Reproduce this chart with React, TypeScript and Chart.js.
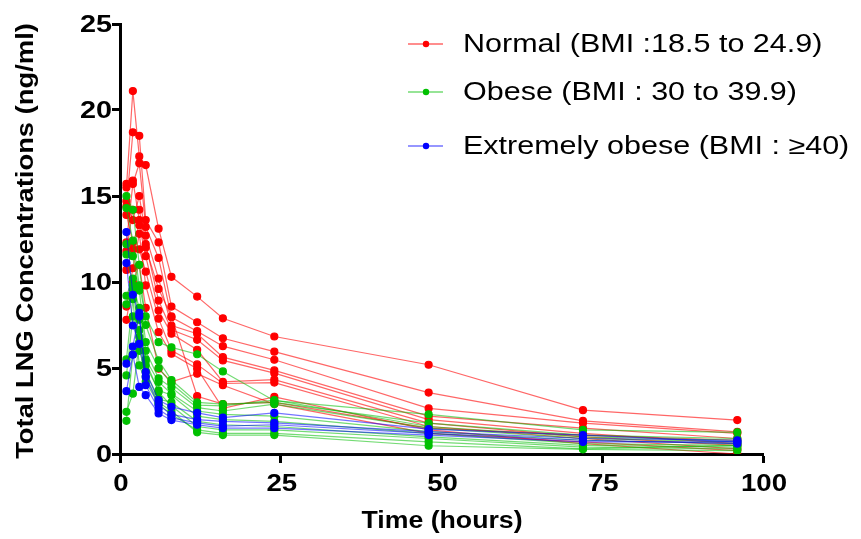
import React, { useEffect, useRef } from "react";
import { Chart, registerables } from "chart.js";

Chart.register(...registerables);

const times = [1, 2, 3, 4, 6, 8, 12, 16, 24, 48, 72, 96];

const normalSubjects: number[][] = [
  [15.5, 21.1, 17.3, 16.8, 13.1, 10.3, 9.15, 7.89, 6.83, 5.19, 2.55, 1.97],
  [14.4, 18.7, 18.5, 13.6, 12.3, 8.57, 7.66, 6.73, 5.95, 3.57, 1.93, 1.29],
  [12.3, 15.7, 16.9, 13.2, 11.4, 7.95, 7.14, 6.27, 5.48, 2.65, 1.8, 1.2],
  [14.7, 13.6, 15.0, 12.7, 10.2, 7.47, 6.99, 5.63, 4.86, 2.2, 1.5, 0.9],
  [11.8, 14.2, 14.2, 12.2, 8.92, 7.22, 6.64, 5.44, 4.7, 2.0, 1.2, 0.6],
  [13.9, 12.3, 13.3, 11.5, 8.34, 6.99, 6.06, 4.19, 4.32, 1.8, 1.0, 0.5],
  [10.7, 11.9, 11.9, 10.6, 7.87, 6.02, 5.21, 4.1, 4.15, 1.6, 0.9, 0.3],
  [8.57, 10.8, 12.8, 9.8, 7.08, 5.83, 4.96, 2.65, 3.32, 1.4, 0.6, 0.0],
  [7.8, 10.0, 11.0, 8.5, 4.96, 4.19, 4.67, 4.0, 2.9, 1.2, 0.7, 0.2],
  [15.7, 15.9, 13.6, 12.0, 9.6, 8.0, 3.36, 2.9, 3.0, 1.5, 1.1, 0.8],
];

const obeseSubjects: number[][] = [
  [14.3, 12.4, 9.8, 8.0, 6.5, 6.2, 5.8, 4.8, 3.1, 2.3, 1.4, 1.26],
  [15.0, 14.2, 11.0, 7.5, 5.44, 4.3, 3.0, 2.9, 3.0, 1.8, 1.1, 0.9],
  [12.2, 11.5, 9.5, 6.5, 5.0, 4.1, 2.84, 2.8, 3.13, 1.6, 1.0, 0.8],
  [11.6, 9.8, 8.5, 6.0, 4.4, 3.86, 2.7, 2.5, 2.9, 1.5, 0.9, 0.7],
  [9.2, 10.2, 7.8, 5.5, 4.19, 3.5, 2.5, 2.3, 2.2, 1.3, 0.8, 0.6],
  [8.7, 9.6, 6.8, 5.15, 3.7, 3.42, 2.2, 2.0, 1.9, 1.2, 0.6, 0.5],
  [4.57, 8.0, 6.0, 4.8, 3.2, 3.0, 1.9, 1.7, 1.6, 1.0, 0.5, 0.4],
  [2.45, 3.51, 6.5, 5.4, 3.6, 2.8, 1.6, 1.4, 1.4, 0.9, 0.4, 0.3],
  [1.93, 5.8, 7.2, 4.5, 3.0, 2.5, 1.26, 1.1, 1.1, 0.48, 0.27, 0.2],
  [5.5, 9.0, 5.15, 4.2, 2.9, 2.3, 1.4, 1.2, 1.2, 0.7, 0.3, 0.5],
];

const extremeSubjects: number[][] = [
  [12.9, 9.26, 8.0, 4.76, 3.13, 2.74, 2.39, 2.12, 2.39, 1.45, 1.1, 0.71],
  [11.1, 7.47, 6.4, 4.48, 2.84, 2.3, 2.0, 1.9, 1.81, 1.3, 0.9, 0.8],
  [5.25, 6.25, 8.2, 4.0, 2.6, 2.1, 1.81, 1.62, 1.7, 1.2, 0.8, 0.6],
  [3.65, 5.77, 3.9, 3.42, 2.36, 1.97, 1.7, 1.5, 1.5, 1.1, 0.7, 0.7],
];

const groupLabels = [
  "Normal (BMI :18.5 to 24.9)",
  "Obese (BMI : 30 to 39.9)",
  "Extremely obese (BMI : \u226540)",
];
const groupColors = ["#ff0000", "#00c000", "#0000ff"];
const groupLineColors = ["rgba(255,0,0,0.6)", "rgba(0,190,0,0.55)", "rgba(0,0,255,0.55)"];

const xTicks = [0, 25, 50, 75, 100];
const yTicks = [0, 5, 10, 15, 20, 25];
const xTitle = "Time (hours)";
const yTitle = "Total LNG Concentrations (ng/ml)";

const FONT = "'Liberation Sans', Arial, sans-serif";

function stretchedText(
  ctx: CanvasRenderingContext2D,
  text: string,
  x: number,
  y: number,
  font: string,
  sx: number,
  align: "left" | "right" | "center",
  rotate = 0
) {
  ctx.save();
  ctx.translate(x, y);
  if (rotate) ctx.rotate(rotate);
  ctx.scale(sx, 1);
  ctx.font = font;
  ctx.fillStyle = "#000";
  ctx.textAlign = align;
  ctx.textBaseline = "middle";
  ctx.fillText(text, 0, 0);
  ctx.restore();
}

export default function App() {
  const ref = useRef<HTMLCanvasElement | null>(null);

  useEffect(() => {
    document.body.style.margin = "0";
    const canvas = ref.current;
    if (!canvas) return;

    const groups = [normalSubjects, obeseSubjects, extremeSubjects];
    const datasets: any[] = [];
    [2, 1, 0].forEach((g) => {
      groups[g].forEach((subj) => {
        datasets.push({
          label: groupLabels[g],
          data: subj.map((v, i) => ({ x: times[i], y: v })),
          borderColor: groupLineColors[g],
          backgroundColor: groupColors[g],
          pointBackgroundColor: groupColors[g],
          pointBorderColor: groupColors[g],
          borderWidth: 1.2,
          pointRadius: 3.5,
          pointHoverRadius: 3.5,
          tension: 0,
          fill: false,
        });
      });
    });

    const textPlugin = {
      id: "textPlugin",
      afterDraw(chart: any) {
        const ctx = chart.ctx as CanvasRenderingContext2D;
        const xs = chart.scales.x;
        const ys = chart.scales.y;
        const tickFont = `bold 24px ${FONT}`;
        ys.ticks.forEach((t: any) => {
          const py = ys.getPixelForValue(t.value);
          stretchedText(ctx, String(t.value), 112, py + 1, tickFont, 1.2, "right");
        });
        xs.ticks.forEach((t: any) => {
          const px = xs.getPixelForValue(t.value);
          stretchedText(ctx, String(t.value), px + 1, 484, tickFont, 1.15, "center");
        });
        stretchedText(ctx, xTitle, 442, 522, `bold 23px ${FONT}`, 1.16, "center");
        stretchedText(ctx, yTitle, 26, 241, `bold 24px ${FONT}`, 1.14, "center", -Math.PI / 2);

        const rows = [44, 92, 146];
        ctx.save();
        rows.forEach((y, i) => {
          ctx.strokeStyle = groupLineColors[i];
          ctx.lineWidth = 1.5;
          ctx.beginPath();
          ctx.moveTo(408, y);
          ctx.lineTo(443, y);
          ctx.stroke();
          ctx.fillStyle = groupColors[i];
          ctx.beginPath();
          ctx.arc(426, y, 3.2, 0, Math.PI * 2);
          ctx.fill();
          stretchedText(ctx, groupLabels[i], 463, y + 1, `25px ${FONT}`, 1.22, "left");
        });
        ctx.restore();
      },
    };

    const chart = new Chart(canvas, {
      type: "line",
      data: { datasets },
      options: {
        animation: false,
        responsive: false,
        maintainAspectRatio: false,
        layout: { padding: { top: 24, right: 98, left: 0, bottom: 0 } },
        plugins: { legend: { display: false }, tooltip: { enabled: false } },
        scales: {
          x: {
            type: "linear",
            min: 0,
            max: 100,
            afterFit: (s: any) => {
              s.height = 85;
            },
            afterBuildTicks: (s: any) => {
              s.ticks = xTicks.map((v) => ({ value: v }));
            },
            border: { display: true, color: "#000", width: 3 },
            grid: {
              drawOnChartArea: false,
              drawTicks: true,
              tickLength: 9,
              tickWidth: 3,
              tickColor: "#000",
            },
            ticks: { display: false },
            title: { display: false },
          },
          y: {
            type: "linear",
            min: 0,
            max: 25,
            afterFit: (s: any) => {
              s.width = 120;
            },
            afterBuildTicks: (s: any) => {
              s.ticks = yTicks.map((v) => ({ value: v }));
            },
            border: { display: true, color: "#000", width: 3 },
            grid: {
              drawOnChartArea: false,
              drawTicks: true,
              tickLength: 8,
              tickWidth: 3,
              tickColor: "#000",
            },
            ticks: { display: false },
            title: { display: false },
          },
        },
      },
      plugins: [textPlugin],
    });

    return () => chart.destroy();
  }, []);

  return (
    <div style={{ width: 861, height: 539, background: "#fff" }}>
      <canvas ref={ref} width={861} height={539} style={{ display: "block" }} />
    </div>
  );
}
